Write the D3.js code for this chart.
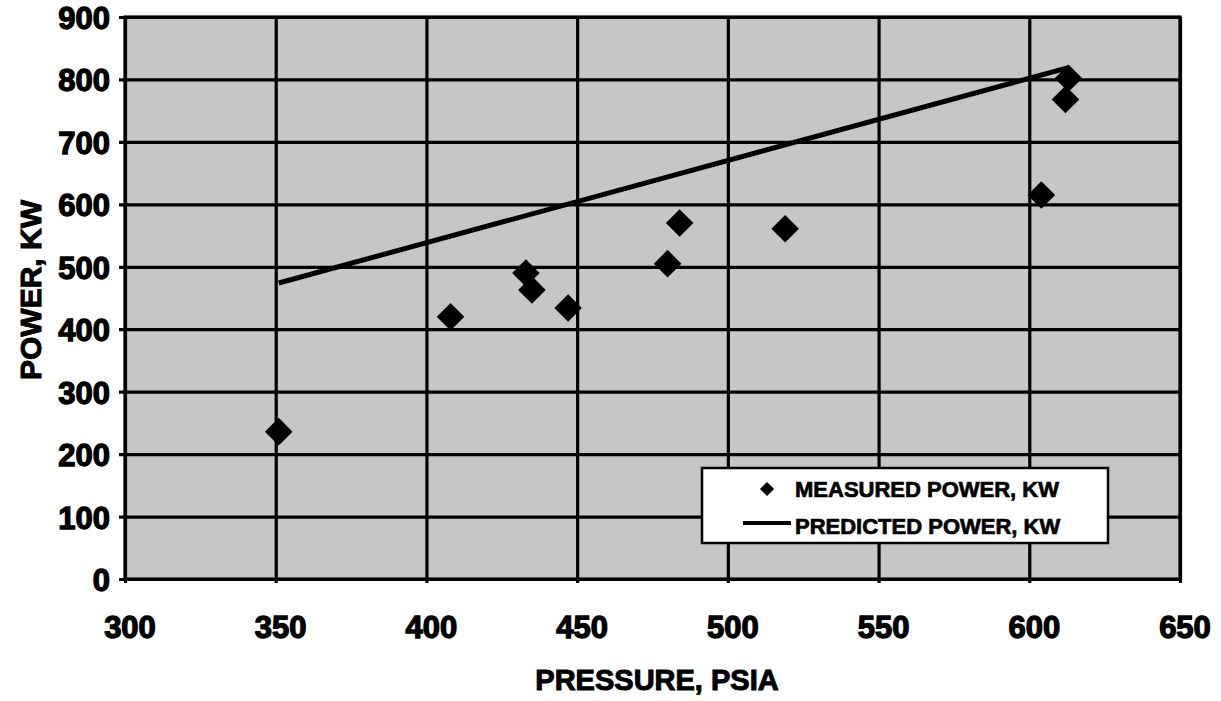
<!DOCTYPE html>
<html>
<head>
<meta charset="utf-8">
<script src="https://cdn.jsdelivr.net/npm/d3@7"></script>
<style>
  html, body { margin: 0; padding: 0; background: #ffffff; }
  svg { display: block; }
  text { font-family: "Liberation Sans", Arial, sans-serif; font-weight: bold; fill: #000; }
</style>
</head>
<body>
<svg id="chart" width="1221" height="701"></svg>
<script>
// Measured power readings (pressure in PSIA, power in KW)
const measuredPressure = [351, 408, 433, 435, 447, 480, 484, 519, 604, 612, 613];
const measuredPower    = [236, 420, 490, 463, 434, 505, 570, 561, 615, 768, 802];

// Predicted power line
const predictedPressure = [351, 613];
const predictedPower    = [474, 819];

// Axis ticks
const xTicks = [300, 350, 400, 450, 500, 550, 600, 650];
const yTicks = [0, 100, 200, 300, 400, 500, 600, 700, 800, 900];

const legendLabels = ["MEASURED POWER, KW", "PREDICTED POWER, KW"];

const svg = d3.select("#chart");
const plot = { left: 125, right: 1180, top: 17, bottom: 579 };

const x = d3.scaleLinear().domain([300, 650]).range([plot.left, plot.right]);
const y = d3.scaleLinear().domain([0, 900]).range([plot.bottom, plot.top]);

// Plot background
svg.append("rect")
  .attr("x", plot.left).attr("y", plot.top)
  .attr("width", plot.right - plot.left).attr("height", plot.bottom - plot.top)
  .attr("fill", "#c6c6c6");

// Horizontal gridlines with short ticks left of the axis
const yAxis = d3.axisLeft(y).tickValues(yTicks)
  .tickSize(-(plot.right - plot.left) - 6).tickSizeOuter(0).tickFormat("");
const gy = svg.append("g").attr("transform", `translate(${plot.left - 6},0)`).call(yAxis);
gy.select(".domain").remove();
gy.selectAll(".tick line").attr("stroke", "#000").attr("stroke-width", 3.2);

// Vertical gridlines with small ticks under the axis
const xAxis = d3.axisBottom(x).tickValues(xTicks)
  .tickSize(-(plot.bottom - plot.top) - 4).tickSizeOuter(0).tickFormat("");
const gx = svg.append("g").attr("transform", `translate(0,${plot.bottom + 4})`).call(xAxis);
gx.select(".domain").remove();
gx.selectAll(".tick line").attr("stroke", "#000").attr("stroke-width", 3.2);

// Plot frame
svg.append("rect")
  .attr("x", plot.left).attr("y", plot.top)
  .attr("width", plot.right - plot.left).attr("height", plot.bottom - plot.top)
  .attr("fill", "none").attr("stroke", "#000").attr("stroke-width", 3.2);

// Tick labels
svg.append("g").selectAll("text").data(yTicks).join("text")
  .attr("x", 110).attr("y", d => y(d) + 12)
  .attr("text-anchor", "end")
  .attr("font-size", 31)
  .attr("stroke", "#000").attr("stroke-width", 1.3)
  .text(d => d);

svg.append("g").selectAll("text").data(xTicks).join("text")
  .attr("x", d => x(d) + 5).attr("y", 638)
  .attr("text-anchor", "middle")
  .attr("font-size", 31)
  .attr("stroke", "#000").attr("stroke-width", 1.3)
  .text(d => d);

// Axis titles
svg.append("text")
  .attr("x", 657).attr("y", 690)
  .attr("text-anchor", "middle")
  .attr("font-size", 29)
  .attr("stroke", "#000").attr("stroke-width", 1)
  .text("PRESSURE, PSIA");

svg.append("text")
  .attr("transform", "translate(41,290) rotate(-90)")
  .attr("text-anchor", "middle")
  .attr("font-size", 30)
  .attr("stroke", "#000").attr("stroke-width", 1)
  .text("POWER, KW");

// Predicted power line
const line = d3.line().x(d => x(d[0])).y(d => y(d[1]));
svg.append("path")
  .datum(predictedPressure.map((p, i) => [p, predictedPower[i]]))
  .attr("d", line)
  .attr("fill", "none").attr("stroke", "#000").attr("stroke-width", 5);

// Measured power markers (diamonds)
const diamond = d3.symbol().type(d3.symbolSquare).size(380);
svg.append("g").selectAll("path")
  .data(measuredPressure.map((p, i) => [p, measuredPower[i]]))
  .join("path")
  .attr("d", diamond)
  .attr("transform", d => `translate(${x(d[0])},${y(d[1])}) rotate(45)`)
  .attr("fill", "#000");

// Legend
const lg = svg.append("g");
lg.append("rect")
  .attr("x", 702).attr("y", 468).attr("width", 406).attr("height", 75)
  .attr("fill", "#fff").attr("stroke", "#000").attr("stroke-width", 2.5);
lg.append("path")
  .attr("d", d3.symbol().type(d3.symbolSquare).size(100))
  .attr("transform", "translate(767,489) rotate(45)")
  .attr("fill", "#000");
lg.append("line")
  .attr("x1", 743).attr("x2", 791).attr("y1", 523).attr("y2", 523)
  .attr("stroke", "#000").attr("stroke-width", 4);
lg.selectAll("text").data(legendLabels).join("text")
  .attr("x", 795).attr("y", (d, i) => 497 + i * 37)
  .attr("font-size", 22)
  .attr("stroke", "#000").attr("stroke-width", 0.7)
  .text(d => d);
</script>
</body>
</html>
